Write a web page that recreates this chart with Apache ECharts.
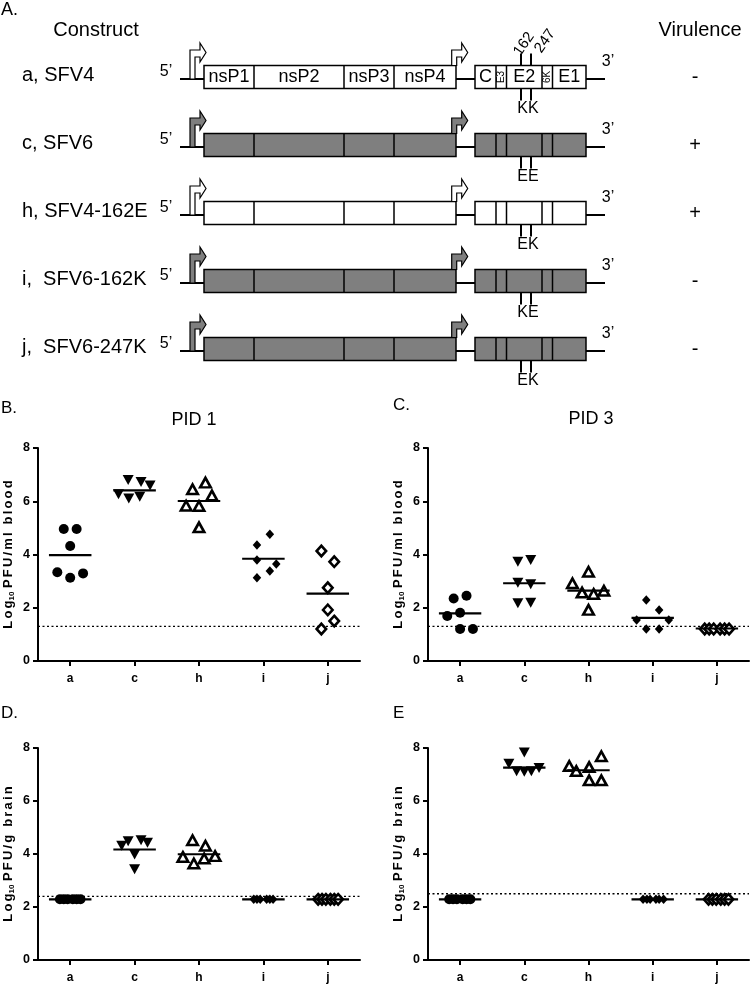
<!DOCTYPE html>
<html><head><meta charset="utf-8">
<script src="https://cdn.jsdelivr.net/npm/echarts@6/dist/echarts.min.js"></script>
<style>html,body{margin:0;padding:0;background:#fff}#c{width:750px;height:986px}</style>
</head><body><div id="c"></div>
<script>
const FONT = '"Liberation Sans", Arial, sans-serif';
const GRAY = '#7f7f7f';

// ---------- Panel A : constructs ----------
const constructNames = ['a, SFV4', 'c, SFV6', 'h, SFV4-162E', 'i,  SFV6-162K', 'j,  SFV6-247K'];
const backbone = ['SFV4', 'SFV6', 'SFV4', 'SFV6', 'SFV6'];
const virulence = ['-', '+', '+', '-', '-'];
const residues = ['KK', 'EE', 'EK', 'KE', 'EK'];
const nsGenes = ['nsP1', 'nsP2', 'nsP3', 'nsP4'];
const nsBounds = [204, 254, 344, 394, 456];          // genome-map units
const sGenes = ['C', 'E3', 'E2', '6K', 'E1'];
const sBounds = [475, 496, 506.5, 542, 552.5, 586];   // genome-map units
const siteNames = ['162', '247'];
const sitePos = [521, 531];
const promoterPos = [190, 451.7];
const genomeSpan = [180, 605];

// ---------- Panels B-E : titres ----------
const categories = ['a', 'c', 'h', 'i', 'j'];

// B: PID 1 blood
const pid1Blood = [
  [4.96, 4.96, 4.32, 3.33, 3.13, 3.29],
  [6.80, 6.72, 6.59, 6.26, 6.10, 6.17],
  [6.70, 6.45, 6.22, 5.83, 5.82, 5.02],
  [4.76, 4.36, 3.79, 3.64, 3.38, 3.13],
  [4.13, 3.73, 2.75, 1.92, 1.50, 1.20]
];
const pid1BloodDx = [
  [-0.10, 0.10, 0, -0.20, 0, 0.20],
  [-0.10, 0.10, 0.24, -0.25, -0.09, 0.08],
  [0.10, -0.10, 0.20, -0.20, 0, 0],
  [0.10, -0.10, -0.10, 0.20, 0.10, -0.10],
  [-0.10, 0.10, 0, 0, 0.10, -0.10]
];
const pid1BloodMeans = [3.98, 6.41, 6.01, 3.84, 2.53];
const pid1BloodLOD = 1.3;

// C: PID 3 blood
const pid3Blood = [
  [2.35, 2.45, 1.81, 1.69, 1.20, 1.20],
  [3.73, 3.79, 2.94, 2.88, 2.17, 2.19],
  [3.35, 2.92, 2.64, 2.57, 2.52, 1.92],
  [2.29, 1.92, 1.54, 1.54, 1.20, 1.20],
  [1.20, 1.20, 1.20, 1.20, 1.20, 1.20]
];
const pid3BloodDx = [
  [-0.10, 0.10, 0, -0.20, 0, 0.20],
  [-0.10, 0.10, -0.10, 0.10, -0.10, 0.10],
  [0, -0.25, 0.24, -0.10, 0.08, 0],
  [-0.10, 0.10, -0.25, 0.25, -0.10, 0.10],
  [-0.19, -0.12, -0.05, 0.05, 0.12, 0.19]
];
const pid3BloodMeans = [1.79, 2.92, 2.64, 1.62, 1.22];
const pid3BloodLOD = 1.3;

// D: PID 1 brain
const pid1Brain = [
  [2.29, 2.29, 2.29, 2.29, 2.29, 2.29],
  [4.31, 4.48, 4.52, 4.42, 3.98, 3.42],
  [4.52, 4.31, 3.89, 3.92, 3.83, 3.64],
  [2.29, 2.29, 2.29, 2.29, 2.29, 2.29],
  [2.29, 2.29, 2.29, 2.29, 2.29, 2.29]
];
const pid1BrainDx = [
  [-0.16, -0.10, -0.04, 0.04, 0.10, 0.16],
  [-0.20, -0.10, 0.10, 0.20, 0, 0],
  [-0.10, 0.10, -0.25, 0.25, 0.08, -0.08],
  [-0.15, -0.10, -0.05, 0.05, 0.10, 0.15],
  [-0.15, -0.09, -0.03, 0.04, 0.10, 0.16]
];
const pid1BrainMeans = [2.29, 4.17, 3.99, 2.29, 2.29];
const pid1BrainLOD = 2.4;

// E: PID 3 brain
const pid3Brain = [
  [2.29, 2.29, 2.29, 2.29, 2.29, 2.29],
  [7.83, 7.41, 7.12, 7.10, 7.12, 7.25],
  [7.69, 7.32, 7.28, 7.13, 6.78, 6.78],
  [2.29, 2.29, 2.29, 2.29, 2.29, 2.29],
  [2.29, 2.29, 2.29, 2.29, 2.29, 2.29]
];
const pid3BrainDx = [
  [-0.17, -0.11, -0.05, 0.04, 0.10, 0.16],
  [0, -0.24, -0.12, 0, 0.11, 0.23],
  [0.20, -0.30, 0.01, -0.19, 0.01, 0.20],
  [-0.15, -0.09, -0.04, 0.05, 0.10, 0.17],
  [-0.13, -0.07, -0.01, 0.06, 0.12, 0.18]
];
const pid3BrainMeans = [2.29, 7.26, 7.16, 2.29, 2.29];
const pid3BrainLOD = 2.5;

// ---------- styles ----------
const groupMarks = [
  { symbol: 'circle', size: 10, rotate: 0, fill: '#000', bw: 0 },
  { symbol: 'triangle', size: [11, 10], rotate: 180, fill: '#000', bw: 0 },
  { symbol: 'triangle', size: [10.5, 9.5], rotate: 0, fill: '#fff', bw: 2.6 },
  { symbol: 'diamond', size: [8.5, 9.5], rotate: 0, fill: '#000', bw: 0 },
  { symbol: 'diamond', size: [9.5, 10.5], rotate: 0, fill: '#fff', bw: 2.6 }
];

function spaced(s) { return s.split('').join('\u200A\u200A'); }

const panels = [
  { grid: { left: 38, top: 448, width: 322, height: 213 }, vals: pid1Blood, dx: pid1BloodDx, means: pid1BloodMeans, lod: pid1BloodLOD, unit: 'PFU/ml blood' },
  { grid: { left: 428, top: 448, width: 321, height: 213 }, vals: pid3Blood, dx: pid3BloodDx, means: pid3BloodMeans, lod: pid3BloodLOD, unit: 'PFU/ml blood' },
  { grid: { left: 38, top: 748, width: 322, height: 212 }, vals: pid1Brain, dx: pid1BrainDx, means: pid1BrainMeans, lod: pid1BrainLOD, unit: 'PFU/g brain' },
  { grid: { left: 428, top: 748, width: 321, height: 212 }, vals: pid3Brain, dx: pid3BrainDx, means: pid3BrainMeans, lod: pid3BrainLOD, unit: 'PFU/g brain' }
];

const grids = [], xAxes = [], yAxes = [], series = [];

panels.forEach((p, pi) => {
  grids.push(p.grid);
  xAxes.push({
    gridIndex: pi, type: 'category', data: categories, boundaryGap: true,
    axisLine: { show: true, onZero: false, lineStyle: { color: '#000', width: 2 } },
    axisTick: { show: true, alignWithLabel: true, length: 5, lineStyle: { color: '#000', width: 2 } },
    axisLabel: { color: '#000', fontWeight: 'bold', fontSize: 12, fontFamily: FONT, margin: 12 },
    splitLine: { show: false }
  });
  xAxes.push({ gridIndex: pi, type: 'value', min: -0.5, max: 4.5, show: false });
  yAxes.push({
    gridIndex: pi, type: 'value', min: 0, max: 8, interval: 2,
    axisLine: { show: true, onZero: false, lineStyle: { color: '#000', width: 2 } },
    axisTick: { show: true, length: 5, lineStyle: { color: '#000', width: 2 } },
    axisLabel: { color: '#000', fontWeight: 'bold', fontSize: 12.5, fontFamily: FONT, margin: 8 },
    splitLine: { show: false },
    name: '{t|' + spaced('Log') + '}{s|10}{t| ' + spaced(p.unit) + '}',
    nameLocation: 'middle', nameRotate: 90, nameGap: 22,
    nameTextStyle: {
      color: '#000',
      rich: {
        t: { fontSize: 13, fontWeight: 'bold', fontFamily: FONT, color: '#000', lineHeight: 16 },
        s: { fontSize: 8, fontWeight: 'bold', fontFamily: FONT, color: '#000', lineHeight: 16, verticalAlign: 'bottom' }
      }
    }
  });
  const xv = pi * 2 + 1;
  series.push({
    type: 'line', xAxisIndex: xv, yAxisIndex: pi, symbol: 'none', silent: true, z: 1,
    data: [[-0.5, p.lod], [4.5, p.lod]],
    lineStyle: { color: '#000', width: 1.3, type: [2, 2.5] }
  });
  p.vals.forEach((vals, g) => {
    const m = groupMarks[g];
    series.push({
      type: 'scatter', xAxisIndex: xv, yAxisIndex: pi, z: 3,
      symbol: m.symbol, symbolSize: m.size, symbolRotate: m.rotate,
      itemStyle: { color: m.fill, borderColor: '#000', borderWidth: m.bw, opacity: 1 },
      data: vals.map((v, k) => [g + p.dx[g][k], v])
    });
  });
  series.push({
    type: 'custom', xAxisIndex: xv, yAxisIndex: pi, z: 4, silent: true,
    data: p.means.map((m, g) => [g, m]),
    renderItem: (params, api) => {
      const a = api.coord([api.value(0) - 0.33, api.value(1)]);
      const b = api.coord([api.value(0) + 0.33, api.value(1)]);
      return { type: 'line', shape: { x1: a[0], y1: a[1], x2: b[0], y2: b[1] }, style: { stroke: '#000', lineWidth: 2.2 } };
    }
  });
});

// ---------- schematic grid ----------
grids.push({ left: 0, top: 43, width: 750, height: 340 });
xAxes.push({ gridIndex: 4, type: 'value', min: 0, max: 750, show: false });
yAxes.push({ gridIndex: 4, type: 'category', data: constructNames, inverse: true, show: false });

function ln(x1, y1, x2, y2, w) {
  return { type: 'line', shape: { x1, y1, x2, y2 }, style: { stroke: '#000', lineWidth: w } };
}
function txt(s, x, y, size, opts) {
  opts = opts || {};
  return {
    type: 'text', x, y, rotation: opts.rot || 0,
    style: {
      text: s, x: 0, y: 0, fill: '#000', fontSize: size, fontFamily: FONT, fontWeight: opts.bold ? 'bold' : 'normal',
      align: opts.align || 'center', textAlign: opts.align || 'center',
      verticalAlign: 'middle', textVerticalAlign: 'middle'
    }
  };
}
function arrow(x0, base, cy, fill) {
  return {
    type: 'polygon',
    shape: { points: [[x0, base], [x0, cy - 27], [x0 + 10, cy - 27], [x0 + 10, cy - 34], [x0 + 16, cy - 24.5],
                      [x0 + 10, cy - 15], [x0 + 10, cy - 20], [x0 + 5, cy - 20], [x0 + 5, base]] },
    style: { fill, stroke: '#000', lineWidth: 1.2 }
  };
}

series.push({
  type: 'custom', xAxisIndex: 8, yAxisIndex: 4, clip: false, silent: true,
  data: constructNames.map((n, i) => [0, i]),
  encode: { x: 0, y: 1 },
  renderItem: (params, api) => {
    const i = api.value(1);
    const cy = api.coord([0, i])[1];
    const X = v => api.coord([v, i])[0];
    const fill = backbone[i] === 'SFV6' ? GRAY : '#fff';
    const H = 11.5;
    const ch = [];
    ch.push(ln(X(genomeSpan[0]), cy + 2, X(genomeSpan[1]), cy + 2, 2));
    ch.push({ type: 'rect', shape: { x: X(nsBounds[0]), y: cy - H, width: X(nsBounds[4]) - X(nsBounds[0]), height: 2 * H },
              style: { fill, stroke: '#000', lineWidth: 1.5 } });
    for (let k = 1; k < nsBounds.length - 1; k++) ch.push(ln(X(nsBounds[k]), cy - H, X(nsBounds[k]), cy + H, 1.5));
    ch.push({ type: 'rect', shape: { x: X(sBounds[0]), y: cy - H, width: X(sBounds[5]) - X(sBounds[0]), height: 2 * H },
              style: { fill, stroke: '#000', lineWidth: 1.5 } });
    for (let k = 1; k < sBounds.length - 1; k++) ch.push(ln(X(sBounds[k]), cy - H, X(sBounds[k]), cy + H, 1.5));
    sitePos.forEach(sx => ch.push(ln(X(sx), cy + H, X(sx), cy + H + 12, 2)));
    ch.push(txt(residues[i], (X(sitePos[0]) + X(sitePos[1])) / 2 + 2, cy + H + 20, 16));
    if (i === 0) {
      sitePos.forEach(sx => ch.push(ln(X(sx), cy - H, X(sx), cy - H - 12, 2)));
      ch.push(txt(siteNames[0], X(sitePos[0]) + 3, cy - 33, 15, { rot: 55 * Math.PI / 180 }));
      ch.push(txt(siteNames[1], X(sitePos[1]) + 14, cy - 36, 15, { rot: 55 * Math.PI / 180 }));
      nsGenes.forEach((g, k) => ch.push(txt(g, (X(nsBounds[k]) + X(nsBounds[k + 1])) / 2, cy, 18)));
      sGenes.forEach((g, k) => {
        const cx = (X(sBounds[k]) + X(sBounds[k + 1])) / 2;
        const narrow = (sBounds[k + 1] - sBounds[k]) < 15;
        ch.push(txt(g, cx, cy, narrow ? 10 : 18, narrow ? { rot: Math.PI / 2 } : {}));
      });
    }
    ch.push(arrow(X(promoterPos[0]), cy + 2, cy, fill));
    ch.push(arrow(X(promoterPos[1]), cy - H, cy, fill));
    ch.push(txt("5\u2019", X(166), cy - 5, 16));
    ch.push(txt("3\u2019", X(608), cy - 15, 16));
    ch.push(txt(constructNames[i], 22, cy - 2, 20, { align: 'left' }));
    ch.push(txt(virulence[i], 695, cy, 20));
    return { type: 'group', children: ch };
  }
});

const gText = (s, x, y, size, align) => ({
  type: 'text', x, y, silent: true,
  style: { text: s, fill: '#000', fontSize: size, fontFamily: FONT, align: align || 'left', textAlign: align || 'left',
           verticalAlign: 'middle', textVerticalAlign: 'middle' }
});

const chart = echarts.init(document.getElementById('c'), null, { renderer: 'canvas' });
chart.setOption({
  animation: false,
  backgroundColor: '#fff',
  grid: grids, xAxis: xAxes, yAxis: yAxes, series,
  graphic: [
    gText('A.', 1, 10, 18),
    gText('Construct', 96, 30, 20, 'center'),
    gText('Virulence', 700, 30, 20, 'center'),
    gText('B.', 1, 408, 17),
    gText('PID 1', 194, 420, 18, 'center'),
    gText('C.', 393, 405, 17),
    gText('PID 3', 591, 419, 18, 'center'),
    gText('D.', 1, 713, 17),
    gText('E', 393, 713, 17)
  ]
});
</script></body></html>
